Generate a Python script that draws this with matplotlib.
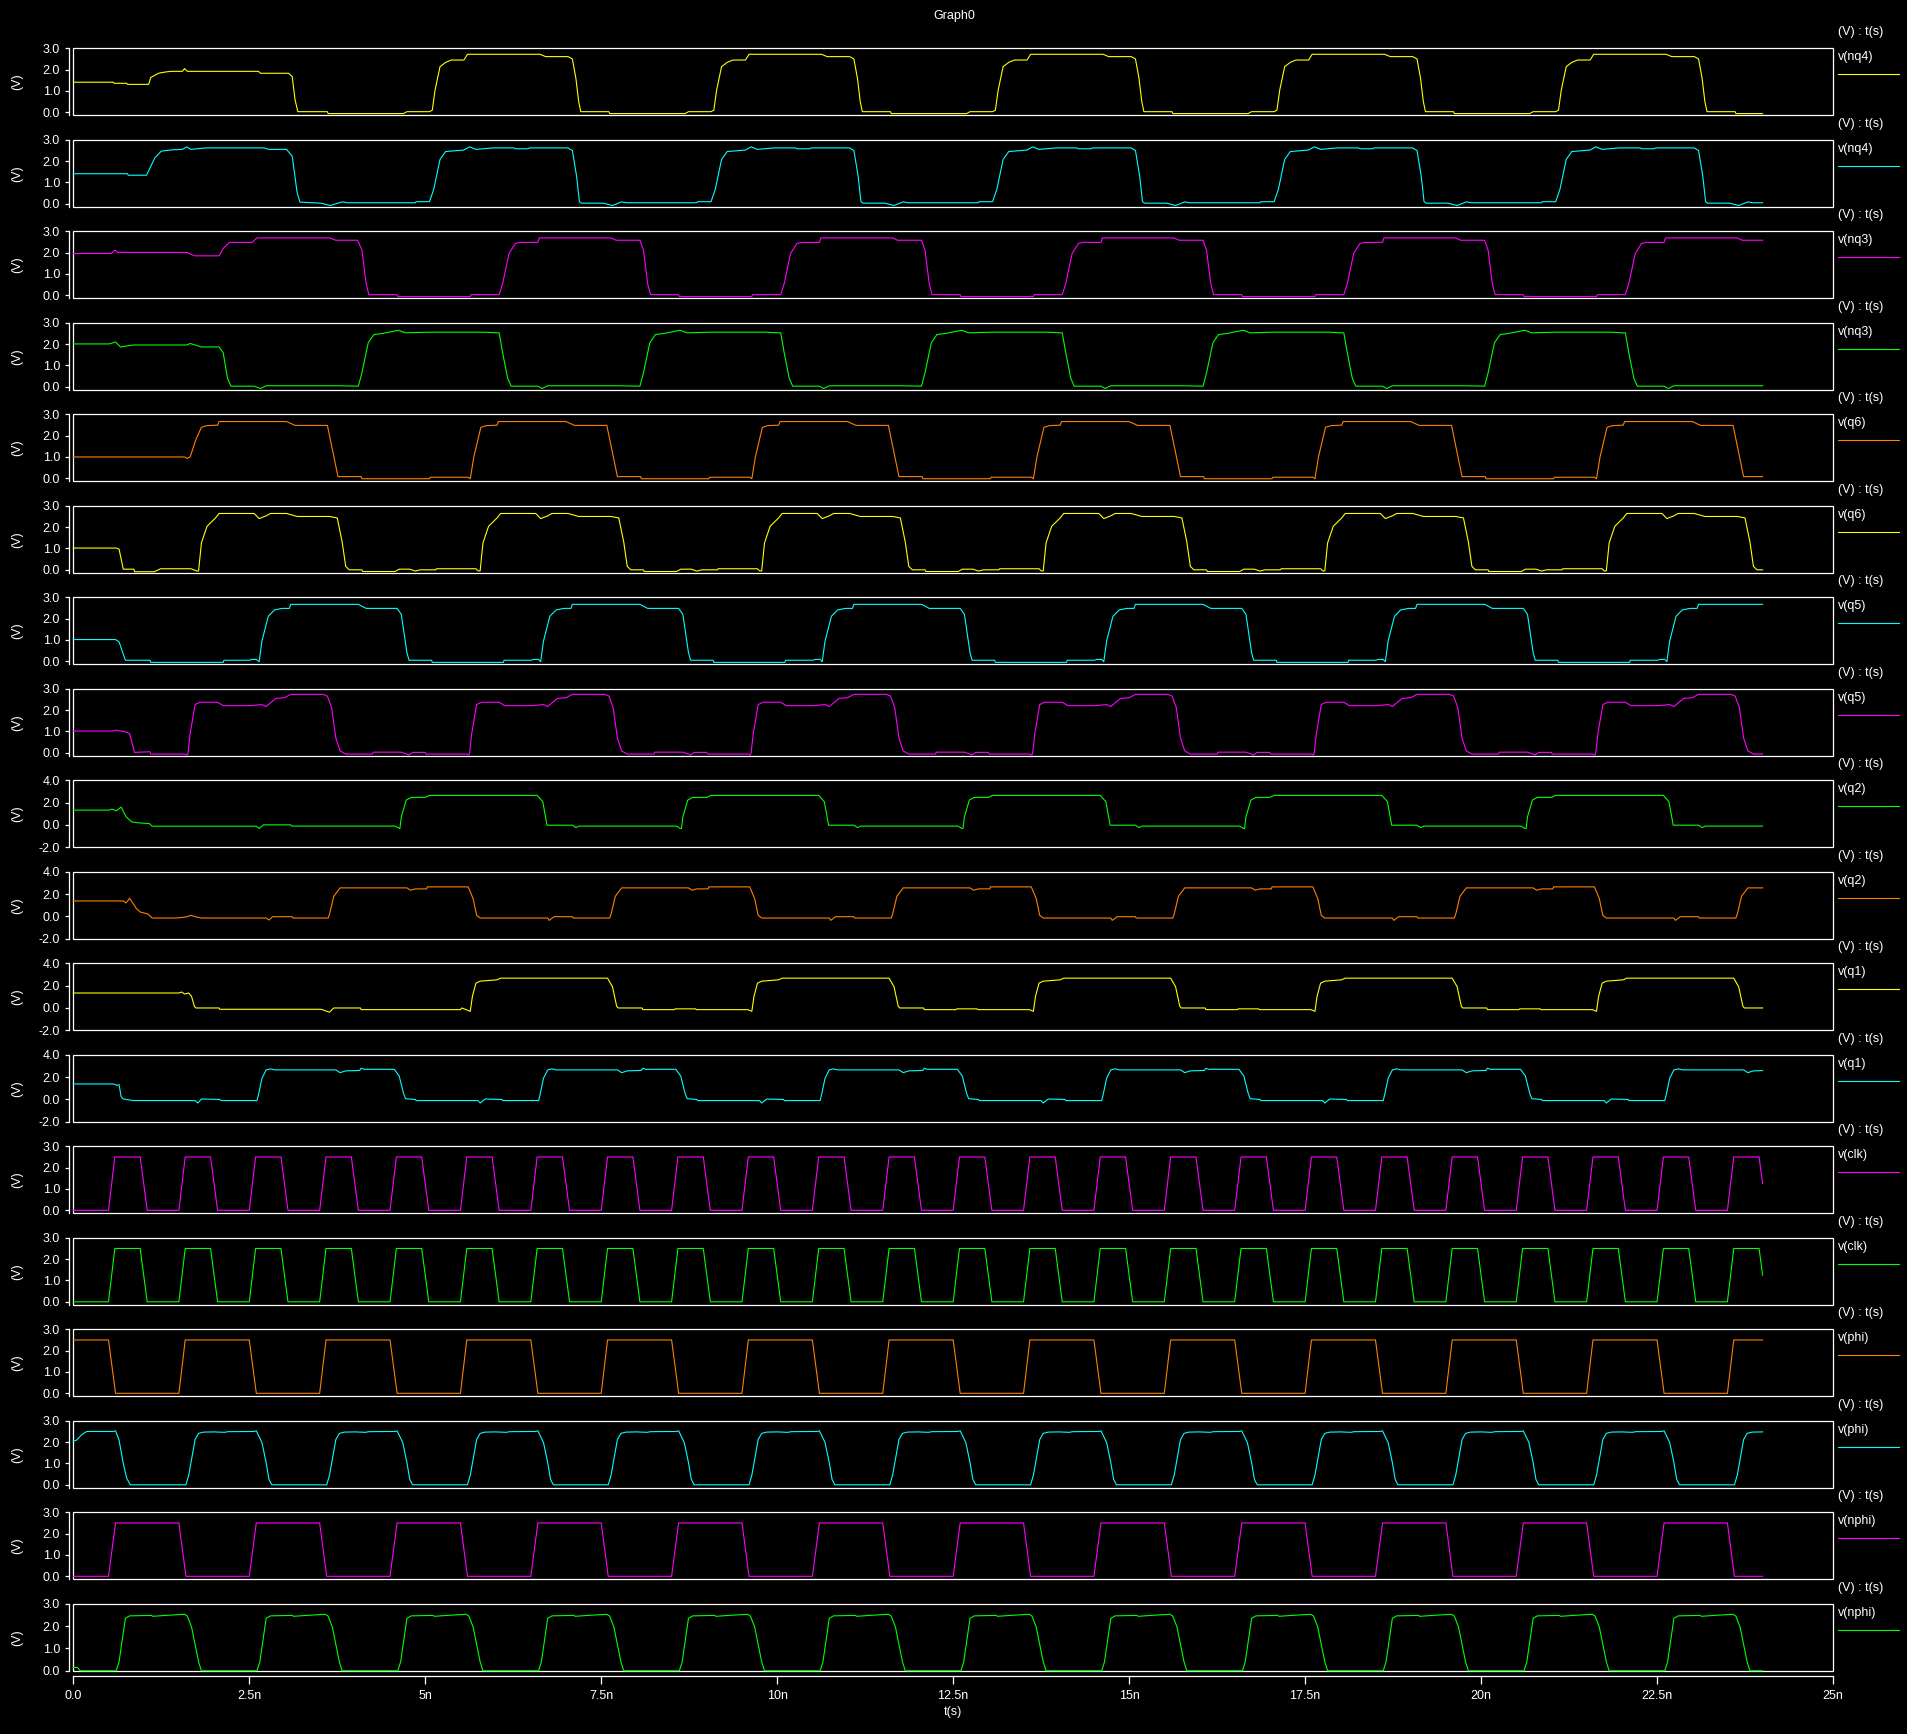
import numpy as np
import matplotlib
matplotlib.use("Agg")
import matplotlib.pyplot as plt
from matplotlib.lines import Line2D
from matplotlib.patches import Rectangle

# --- DATA (times in ns, values in V) ---
# each trace: initial segment + one-period shape repeated at the listed start times

nq4a_init_t = [0, 0.57, 0.58, 0.76, 0.77, 1.07, 1.10, 1.21, 1.29, 1.38, 1.55, 1.58, 1.62, 2.63, 2.66, 3.06, 3.11, 3.15, 3.19, 3.61, 3.62, 4.69, 4.74]
nq4a_init_v = [1.41, 1.41, 1.36, 1.36, 1.31, 1.31, 1.63, 1.83, 1.88, 1.92, 1.92, 2.05, 1.92, 1.92, 1.83, 1.83, 1.67, 0.60, 0.03, 0.03, -0.06, -0.06, 0.03]
nq4a_tpl_t = [0, 0.04, 0.08, 0.15, 0.23, 0.31, 0.49, 0.54, 1.57, 1.65, 1.97, 2.03, 2.08, 2.12, 2.15, 2.55, 2.56, 3.63, 3.68]
nq4a_tpl_v = [0.03, 0.10, 1.05, 2.14, 2.34, 2.45, 2.45, 2.72, 2.72, 2.61, 2.61, 2.50, 1.60, 0.50, 0.03, 0.03, -0.06, -0.06, 0.03]
nq4a_starts = [5.06, 9.06, 13.06, 17.06, 21.06]

nq4b_init_t = [0, 0.77, 0.78, 1.04, 1.08, 1.16, 1.25, 1.41, 1.55, 1.61, 1.67, 1.88, 2.71, 2.78, 3.03, 3.11, 3.18, 3.22, 3.52, 3.65, 3.82, 3.90, 4.86, 4.87]
nq4b_init_v = [1.41, 1.41, 1.34, 1.34, 1.61, 2.16, 2.47, 2.53, 2.55, 2.67, 2.55, 2.62, 2.62, 2.55, 2.55, 2.23, 0.52, 0.08, 0.03, -0.08, 0.09, 0.05, 0.05, 0.10]
nq4b_tpl_t = [0, 0.06, 0.15, 0.23, 0.49, 0.57, 0.66, 0.90, 1.20, 1.22, 1.40, 1.42, 1.97, 2.00, 2.03, 2.09, 2.13, 2.16, 2.47, 2.60, 2.73, 2.80, 3.80, 3.81]
nq4b_tpl_v = [0.10, 0.67, 2.08, 2.45, 2.52, 2.67, 2.55, 2.62, 2.62, 2.58, 2.58, 2.62, 2.62, 2.55, 2.50, 1.30, 0.10, 0.03, 0.03, -0.08, 0.09, 0.05, 0.05, 0.10]
nq4b_starts = [5.06, 9.06, 13.06, 17.06, 21.06]

nq3a_init_t = [0, 0.54, 0.59, 0.63, 1.61, 1.67, 1.73, 2.07, 2.13, 2.22, 2.54, 2.61, 3.64, 3.73, 4.04, 4.10, 4.16, 4.20, 4.60, 4.61, 5.64, 5.65]
nq3a_init_v = [1.96, 1.96, 2.12, 2.01, 2.01, 1.92, 1.85, 1.85, 2.20, 2.48, 2.48, 2.69, 2.69, 2.58, 2.58, 2.12, 0.55, 0.03, 0.03, -0.06, -0.06, 0.03]
nq3a_tpl_t = [0, 0.05, 0.14, 0.23, 0.30, 0.55, 0.57, 1.59, 1.66, 2.00, 2.05, 2.11, 2.15, 2.55, 2.56, 3.59, 3.60]
nq3a_tpl_v = [0.03, 0.55, 1.96, 2.43, 2.48, 2.48, 2.69, 2.69, 2.58, 2.58, 2.12, 0.55, 0.03, 0.03, -0.06, -0.06, 0.03]
nq3a_starts = [6.05, 10.05, 14.05, 18.05, 22.05]

nq3b_init_t = [0, 0.51, 0.60, 0.67, 0.86, 1.61, 1.66, 1.82, 2.07, 2.13, 2.19, 2.24, 2.57, 2.66, 2.74, 3.76]
nq3b_init_v = [2.01, 2.01, 2.10, 1.87, 1.96, 1.96, 2.03, 1.87, 1.87, 1.59, 0.41, 0.03, 0.03, -0.08, 0.05, 0.05]
nq3b_tpl_t = [0, 0.05, 0.14, 0.22, 0.34, 0.57, 0.67, 1.00, 1.80, 1.95, 2.00, 2.05, 2.12, 2.17, 2.55, 2.61, 2.69, 3.70]
nq3b_tpl_v = [0.03, 0.65, 2.06, 2.45, 2.50, 2.65, 2.53, 2.56, 2.56, 2.53, 2.53, 1.59, 0.41, 0.03, 0.03, -0.08, 0.05, 0.05]
nq3b_starts = [4.05, 8.05, 12.05, 16.05, 20.05]

q6a_init_t = [0, 1.58, 1.62, 1.66, 1.74, 1.82, 1.90, 2.05, 2.07, 3.03, 3.15, 3.61, 3.69, 3.76, 4.09, 4.10, 5.06, 5.07]
q6a_init_v = [1.00, 1.00, 0.93, 1.00, 1.80, 2.39, 2.47, 2.49, 2.66, 2.66, 2.48, 2.48, 1.20, 0.08, 0.08, -0.02, -0.02, 0.05]
q6a_tpl_t = [0, 0.03, 0.08, 0.18, 0.26, 0.41, 0.43, 1.39, 1.51, 1.97, 2.05, 2.12, 2.45, 2.46, 3.42, 3.43, 3.97]
q6a_tpl_v = [0.05, -0.02, 1.00, 2.39, 2.47, 2.49, 2.66, 2.66, 2.48, 2.48, 1.20, 0.08, 0.08, -0.02, -0.02, 0.05, 0.05]
q6a_starts = [5.61, 9.61, 13.61, 17.61, 21.61]

q6b_init_t = [0, 0.61, 0.65, 0.71, 0.86, 0.87, 1.15, 1.24, 1.67, 1.76]
q6b_init_v = [1.02, 1.02, 0.97, 0.03, 0.03, -0.09, -0.09, 0.05, 0.05, -0.06]
q6b_tpl_t = [0, 0.04, 0.12, 0.24, 0.29, 0.79, 0.86, 0.96, 1.02, 1.25, 1.40, 1.86, 1.97, 2.04, 2.09, 2.14, 2.32, 2.33, 2.79, 2.85, 3.00, 3.08, 3.15, 3.37, 3.38, 3.94, 3.97]
q6b_tpl_v = [-0.05, 1.26, 2.04, 2.43, 2.64, 2.64, 2.40, 2.53, 2.64, 2.64, 2.50, 2.50, 2.43, 1.30, 0.16, 0.00, 0.00, -0.08, -0.08, 0.03, 0.03, -0.06, 0.00, 0.00, 0.05, 0.05, -0.05]
q6b_starts = [1.78, 5.78, 9.78, 13.78, 17.78, 21.78]

q5a_init_t = [0, 0.60, 0.65, 0.74, 1.09, 1.10, 2.13, 2.14, 2.51, 2.53, 2.60]
q5a_init_v = [1.02, 1.02, 0.91, 0.05, 0.05, -0.05, -0.05, 0.05, 0.05, 0.09, 0.09]
q5a_tpl_t = [0, 0.04, 0.13, 0.22, 0.33, 0.43, 0.45, 1.41, 1.52, 1.96, 2.02, 2.10, 2.13, 2.45, 2.46, 3.47, 3.48, 3.87, 3.90, 3.97]
q5a_tpl_v = [-0.02, 0.95, 2.11, 2.41, 2.48, 2.48, 2.67, 2.67, 2.48, 2.48, 2.20, 0.40, 0.05, 0.05, -0.05, -0.05, 0.05, 0.05, 0.09, 0.09]
q5a_starts = [2.64, 6.64, 10.64, 14.64, 18.64, 22.64]

q5b_init_t = [0, 0.57, 0.60, 0.72, 0.80, 0.87, 1.09, 1.10, 1.58]
q5b_init_v = [1.02, 1.02, 1.06, 1.00, 0.90, 0.02, 0.05, -0.06, -0.06]
q5b_tpl_t = [0, 0.01, 0.04, 0.11, 0.18, 0.43, 0.51, 0.89, 1.06, 1.12, 1.21, 1.26, 1.38, 1.47, 1.93, 1.99, 2.05, 2.11, 2.17, 2.25, 2.63, 2.64, 3.04, 3.15, 3.20, 3.38, 3.39, 3.96]
q5b_tpl_v = [-0.10, 0.00, 0.90, 2.26, 2.37, 2.37, 2.21, 2.21, 2.26, 2.17, 2.42, 2.55, 2.58, 2.74, 2.74, 2.66, 2.11, 0.69, 0.09, -0.06, -0.06, 0.03, 0.03, -0.10, 0.02, 0.02, -0.06, -0.06]
q5b_starts = [1.62, 5.62, 9.62, 13.62, 17.62, 21.62]

q2a_init_t = [0, 0.51, 0.55, 0.61, 0.68, 0.75, 0.83, 0.92, 1.08, 1.12, 2.60, 2.64, 2.70, 3.09, 3.10, 4.57]
q2a_init_v = [1.33, 1.33, 1.42, 1.27, 1.60, 0.73, 0.28, 0.19, 0.13, -0.11, -0.11, -0.32, 0.01, 0.01, -0.10, -0.10]
q2a_tpl_t = [0, 0.02, 0.09, 0.16, 0.36, 0.42, 1.95, 2.03, 2.09, 2.45, 2.50, 2.55, 3.93, 3.98]
q2a_tpl_v = [-0.32, 0.73, 2.23, 2.47, 2.47, 2.65, 2.65, 2.08, -0.02, -0.02, -0.23, -0.10, -0.10, -0.30]
q2a_starts = [4.64, 8.64, 12.64, 16.64, 20.64]

q2b_init_t = [0, 0.71, 0.75, 0.80, 0.89, 0.95, 1.06, 1.12, 1.46, 1.60, 1.67, 1.75, 1.82, 2.74, 2.78, 2.83, 3.11, 3.12]
q2b_init_v = [1.39, 1.39, 1.21, 1.63, 0.76, 0.40, 0.22, -0.14, -0.14, -0.05, 0.10, -0.05, -0.14, -0.14, -0.32, -0.02, -0.02, -0.14]
q2b_tpl_t = [0, 0.02, 0.08, 0.17, 1.12, 1.17, 1.24, 1.40, 1.41, 1.99, 2.06, 2.11, 2.16, 3.12, 3.14, 3.21, 3.47, 3.48]
q2b_tpl_v = [-0.14, 0.20, 1.80, 2.56, 2.56, 2.35, 2.47, 2.47, 2.65, 2.65, 1.60, 0.10, -0.14, -0.14, -0.35, -0.02, -0.02, -0.14]
q2b_starts = [3.62, 7.62, 11.62, 15.62, 19.62, 23.62]

q1a_init_t = [0, 1.50, 1.54, 1.58, 1.64, 1.68, 1.72, 1.74, 2.07, 2.08, 3.52, 3.64, 3.70, 4.08, 4.09, 5.50, 5.52, 5.58]
q1a_init_v = [1.34, 1.34, 1.43, 1.25, 1.34, 1.04, 0.15, 0.00, 0.00, -0.12, -0.12, -0.38, 0.00, 0.00, -0.15, -0.15, 0.00, -0.15]
q1a_tpl_t = [0, 0.03, 0.08, 0.14, 0.38, 0.43, 1.95, 2.02, 2.08, 2.10, 2.44, 2.45, 2.90, 2.91, 3.20, 3.21, 3.94]
q1a_tpl_v = [-0.30, 1.04, 2.22, 2.40, 2.52, 2.67, 2.67, 1.90, 0.15, 0.00, 0.00, -0.15, -0.15, -0.08, -0.08, -0.15, -0.15]
q1a_starts = [5.64, 9.64, 13.64, 17.64, 21.64]

q1b_init_t = [0, 0.57, 0.62, 0.65, 0.68, 0.71, 0.86, 1.73, 1.77, 1.82, 2.08, 2.10]
q1b_init_v = [1.39, 1.39, 1.27, 1.33, 0.25, 0.04, -0.10, -0.10, -0.32, 0.04, 0.00, -0.10]
q1b_tpl_t = [0, 0.02, 0.07, 0.13, 0.19, 0.25, 1.12, 1.18, 1.26, 1.46, 1.48, 1.52, 1.95, 2.02, 2.08, 2.11, 2.25, 2.26, 3.14, 3.17, 3.24, 3.48, 3.49]
q1b_tpl_v = [-0.10, 0.40, 1.90, 2.65, 2.74, 2.65, 2.65, 2.40, 2.56, 2.60, 2.80, 2.70, 2.70, 2.10, 0.58, 0.07, 0.00, -0.10, -0.10, -0.32, 0.04, 0.00, -0.10]
q1b_starts = [2.61, 6.61, 10.61, 14.61, 18.61, 22.61]

clk_init_t = [0, 0.5]
clk_init_v = [0.0, 0.0]
clk_tpl_t = [0, 0.09, 0.45, 0.55]
clk_tpl_v = [0.0, 2.5, 2.5, 0.0]
clk_starts = [0.5, 1.5, 2.5, 3.5, 4.5, 5.5, 6.5, 7.5, 8.5, 9.5, 10.5, 11.5,
              12.5, 13.5, 14.5, 15.5, 16.5, 17.5, 18.5, 19.5, 20.5, 21.5, 22.5, 23.5]

phia_init_t = [0]
phia_init_v = [2.5]
phia_tpl_t = [0, 0.1, 1.0, 1.09]
phia_tpl_v = [2.5, 0.0, 0.0, 2.5]
phia_starts = [0.5, 2.5, 4.5, 6.5, 8.5, 10.5, 12.5, 14.5, 16.5, 18.5, 20.5, 22.5]

phib_init_t = [0, 0.05, 0.12, 0.19, 0.57, 0.60, 0.65, 0.71, 0.76, 0.81]
phib_init_v = [2.05, 2.10, 2.35, 2.50, 2.50, 2.53, 2.10, 1.00, 0.30, 0.00]
phib_tpl_t = [0, 0.04, 0.08, 0.13, 0.18, 0.25, 0.40, 0.55, 0.60, 0.97, 1.00, 1.08, 1.14, 1.18, 1.22]
phib_tpl_v = [0.00, 0.45, 1.19, 2.12, 2.41, 2.47, 2.48, 2.46, 2.49, 2.50, 2.53, 1.98, 1.04, 0.25, 0.00]
phib_starts = [1.6, 3.6, 5.6, 7.6, 9.6, 11.6, 13.6, 15.6, 17.6, 19.6, 21.6, 23.6]

nphia_init_t = [0]
nphia_init_v = [0.0]
nphia_tpl_t = [0, 0.1, 1.0, 1.1]
nphia_tpl_v = [0.0, 2.5, 2.5, 0.0]
nphia_starts = [0.5, 2.5, 4.5, 6.5, 8.5, 10.5, 12.5, 14.5, 16.5, 18.5, 20.5, 22.5]

nphib_init_t = [0, 0.06, 0.10]
nphib_init_v = [0.15, 0.15, 0.00]
nphib_tpl_t = [0, 0.04, 0.09, 0.13, 0.19, 0.50, 0.52, 0.70, 0.97, 1.01, 1.07, 1.12, 1.17, 1.21]
nphib_tpl_v = [0.00, 0.40, 1.50, 2.35, 2.46, 2.48, 2.44, 2.48, 2.53, 2.45, 1.96, 1.18, 0.40, 0.00]
nphib_starts = [0.61, 2.61, 4.61, 6.61, 8.61, 10.61, 12.61, 14.61, 16.61, 18.61, 20.61, 22.61]

labels = ['v(nq4)', 'v(nq4)', 'v(nq3)', 'v(nq3)', 'v(q6)', 'v(q6)', 'v(q5)', 'v(q5)',
          'v(q2)', 'v(q2)', 'v(q1)', 'v(q1)', 'v(clk)', 'v(clk)', 'v(phi)', 'v(phi)',
          'v(nphi)', 'v(nphi)']
xtick_vals = [0, 2.5, 5, 7.5, 10, 12.5, 15, 17.5, 20, 22.5, 25]
xtick_labels = ['0.0', '2.5n', '5n', '7.5n', '10n', '12.5n', '15n', '17.5n', '20n', '22.5n', '25n']
T_END = 24.0

traces = [
    (nq4a_init_t, nq4a_init_v, nq4a_tpl_t, nq4a_tpl_v, nq4a_starts),
    (nq4b_init_t, nq4b_init_v, nq4b_tpl_t, nq4b_tpl_v, nq4b_starts),
    (nq3a_init_t, nq3a_init_v, nq3a_tpl_t, nq3a_tpl_v, nq3a_starts),
    (nq3b_init_t, nq3b_init_v, nq3b_tpl_t, nq3b_tpl_v, nq3b_starts),
    (q6a_init_t, q6a_init_v, q6a_tpl_t, q6a_tpl_v, q6a_starts),
    (q6b_init_t, q6b_init_v, q6b_tpl_t, q6b_tpl_v, q6b_starts),
    (q5a_init_t, q5a_init_v, q5a_tpl_t, q5a_tpl_v, q5a_starts),
    (q5b_init_t, q5b_init_v, q5b_tpl_t, q5b_tpl_v, q5b_starts),
    (q2a_init_t, q2a_init_v, q2a_tpl_t, q2a_tpl_v, q2a_starts),
    (q2b_init_t, q2b_init_v, q2b_tpl_t, q2b_tpl_v, q2b_starts),
    (q1a_init_t, q1a_init_v, q1a_tpl_t, q1a_tpl_v, q1a_starts),
    (q1b_init_t, q1b_init_v, q1b_tpl_t, q1b_tpl_v, q1b_starts),
    (clk_init_t, clk_init_v, clk_tpl_t, clk_tpl_v, clk_starts),
    (clk_init_t, clk_init_v, clk_tpl_t, clk_tpl_v, clk_starts),
    (phia_init_t, phia_init_v, phia_tpl_t, phia_tpl_v, phia_starts),
    (phib_init_t, phib_init_v, phib_tpl_t, phib_tpl_v, phib_starts),
    (nphia_init_t, nphia_init_v, nphia_tpl_t, nphia_tpl_v, nphia_starts),
    (nphib_init_t, nphib_init_v, nphib_tpl_t, nphib_tpl_v, nphib_starts),
]

# --- STYLE ---
YEL, CYA, MAG, GRN, ORG = '#ffff00', '#00ffff', '#ff00ff', '#00ff00', '#ff8000'
colors = [YEL, CYA, MAG, GRN, ORG, YEL, CYA, MAG, GRN, ORG, YEL, CYA, MAG, GRN, ORG, CYA, MAG, GRN]
wide = [8, 9, 10, 11]  # panels with -2..4 V range


def build(init_t, init_v, tpl_t, tpl_v, starts):
    t = list(init_t)
    v = list(init_v)
    for s in starts:
        t += [s + dt for dt in tpl_t]
        v += list(tpl_v)
    t = np.array(t)
    v = np.array(v)
    v_end = np.interp(T_END, t, v)
    keep = t < T_END
    return np.append(t[keep], T_END), np.append(v[keep], v_end)


plt.rcParams['font.family'] = ['Liberation Sans', 'DejaVu Sans']
W, H = 1908, 1734
fig = plt.figure(figsize=(W / 100, H / 100), dpi=100, facecolor='black')

left_px, right_px = 73.3, 1833
top0, pitch, box_h = 48.3, 91.5, 67
fs = 9

for i, (lab, col, tr) in enumerate(zip(labels, colors, traces)):
    top = top0 + pitch * i
    ax = fig.add_axes([left_px / W, 1 - (top + box_h) / H, (right_px - left_px) / W, box_h / H])
    ax.set_facecolor('black')
    t, v = build(*tr)
    ax.plot(t, v, color=col, lw=0.8, zorder=3, clip_on=False)
    ax.set_xlim(0, 25)
    if i in wide:
        ax.set_ylim(-2, 4)
        ax.set_yticks([-2, 0, 2, 4])
        ax.set_yticklabels(['-2.0', '0.0', '2.0', '4.0'])
    else:
        ax.set_ylim(0 if i == 17 else -0.14, 3.0)
        ax.set_yticks([0, 1, 2, 3])
        ax.set_yticklabels(['0.0', '1.0', '2.0', '3.0'])

    for s in ['top', 'right', 'bottom']:
        ax.spines[s].set_visible(False)
    ax.spines['left'].set_position(('outward', 3))
    ax.spines['left'].set_color('white')
    ax.spines['left'].set_linewidth(0.9)
    ax.add_patch(Rectangle((0, 0), 1, 1, transform=ax.transAxes, fill=False,
                           edgecolor='white', lw=0.9, zorder=2, clip_on=False))
    ax.tick_params(axis='y', direction='out', length=3, width=0.9, colors='white',
                   labelsize=fs, pad=3.5)

    if i == len(labels) - 1:
        ax.spines['bottom'].set_visible(True)
        ax.spines['bottom'].set_position(('outward', 4))
        ax.spines['bottom'].set_color('white')
        ax.spines['bottom'].set_linewidth(0.9)
        ax.set_xticks(xtick_vals)
        ax.set_xticklabels(xtick_labels)
        ax.tick_params(axis='x', direction='out', length=6, width=0.9, colors='white',
                       labelsize=fs, pad=4)
        ax.set_xlabel('t(s)', color='white', fontsize=fs, labelpad=3)
    else:
        ax.set_xticks([])

    yc = 1 - (top + box_h / 2) / H
    fig.text(17 / W, yc, '(V)', rotation=90, ha='center', va='center', color='white', fontsize=fs)
    fig.text(1838 / W, 1 - (top - 16) / H, '(V) : t(s)', ha='left', va='center', color='white', fontsize=fs)
    fig.text(1838 / W, 1 - (top + 9) / H, lab, ha='left', va='center', color='white', fontsize=fs)
    fig.add_artist(Line2D([1838 / W, 1899 / W], [1 - (top + 26) / H] * 2,
                          transform=fig.transFigure, color=col, lw=0.8))

fig.text(0.5, 1 - 16 / H, 'Graph0', ha='center', va='center', color='white', fontsize=fs)

fig.savefig('out.png', dpi=100, facecolor='black')
